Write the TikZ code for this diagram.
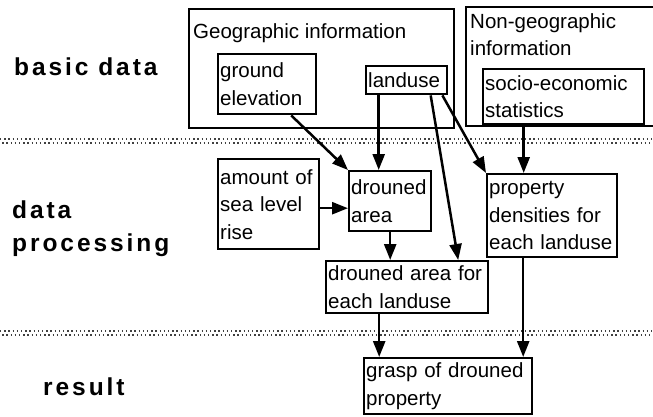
\documentclass[tikz,border=0pt]{standalone}
\usepackage{fontspec}
\setmainfont{Liberation Sans}
\newfontfamily\levelfamily[LetterSpace=12]{Liberation Sans}
\usepackage{tikz}
\usetikzlibrary{arrows.meta, positioning, calc}
\newcommand{\boxfont}{\fontsize{20.5}{27.5}\selectfont\hyphenpenalty=10000}
\newcommand{\levelfont}{\fontsize{24.5}{33}\selectfont\levelfamily\bfseries}

\begin{document}
\begin{tikzpicture}[
    x=1pt, y=-1pt,
    databox/.style={rectangle, draw, line width=2.4pt, anchor=north west, align=left, inner xsep=2pt, inner ysep=0pt, font=\boxfont},
    level/.style={align=left, inner sep=0pt, font=\levelfont},
    separator/.style={line width=1.4pt, dash pattern=on 1.4pt off 2.8pt, black!75},
    arrowstyle/.style={-{Triangle[length=16pt, width=12pt]}, line width=2.5pt}
]
\useasboundingbox (0,0) rectangle (653,416);

% levels
\node[level, anchor=base west] (basic) at (14,75) {basic data};
\node[level, anchor=north west] (processing) at (12,201) {data\\processing};
\node[level, anchor=base west] (result) at (43,395) {result};

\foreach \y in {141,333} {
    \draw[separator] (0,\y-2) -- (653,\y-2);
    \draw[separator, dash phase=2.1pt] (0,\y+2) -- (653,\y+2);
}

% basic data
\node[databox, minimum width=265pt, minimum height=119pt] (geo) at (188,8) {};
\node[anchor=base west, inner sep=0pt, font=\boxfont] (geotitle) at (193,38) {Geographic information};
\node[databox, minimum width=200pt, minimum height=119pt] (nongeo) at (465,6) {};
\node[anchor=north west, inner sep=0pt, align=left, font=\boxfont] (nongeotitle) at (470,13) {Non-geographic\\information};
\node[databox, text width=94pt, minimum height=60pt] (elev) at (217,53) {ground\\elevation};
\node[databox, text width=77pt, minimum height=28pt] (landuse) at (365,65) {landuse};
\node[databox, text width=157pt, minimum height=55pt] (socio) at (482,68) {socio-economic\\statistics};

% data processing
\node[databox, text width=97pt, minimum height=90pt] (sealevel) at (217,158) {amount of\\sea level\\rise};
\node[databox, text width=78pt, minimum height=60pt] (drowned) at (348,170) {drouned\\area};
\node[databox, text width=158pt, minimum height=52pt] (drownedlu) at (325,260) {drouned area for\\each landuse};
\node[databox, text width=126pt, minimum height=83pt] (density) at (486,173) {property\\densities for\\each landuse};

% result
\node[databox, text width=164pt, minimum height=56pt] (grasp) at (363,357) {grasp of drouned\\property};

\draw[arrowstyle] ([xshift=24pt]elev.south) -- (drowned.north west);
\draw[arrowstyle] ([xshift=-28pt]landuse.south) -- ([xshift=-28pt]landuse.south |- drowned.north);
\draw[arrowstyle] ([xshift=24pt]landuse.south) -- ([xshift=51pt]drownedlu.north);
\draw[arrowstyle] ([xshift=-6pt]landuse.south east) -- (density.north west);
\draw[arrowstyle] ([xshift=-40pt]socio.south) -- ([xshift=-40pt]socio.south |- density.north);
\draw[arrowstyle] ([yshift=-4pt]sealevel.east) -- ([yshift=-4pt]sealevel.east -| drowned.west);
\draw[arrowstyle] (drowned.south) -- (drowned.south |- drownedlu.north);
\draw[arrowstyle] ([xshift=-28pt]drownedlu.south) -- ([xshift=-28pt]drownedlu.south |- grasp.north);
\draw[arrowstyle] ([xshift=-29pt]density.south) -- ([xshift=-29pt]density.south |- grasp.north);

\end{tikzpicture}
\end{document}
